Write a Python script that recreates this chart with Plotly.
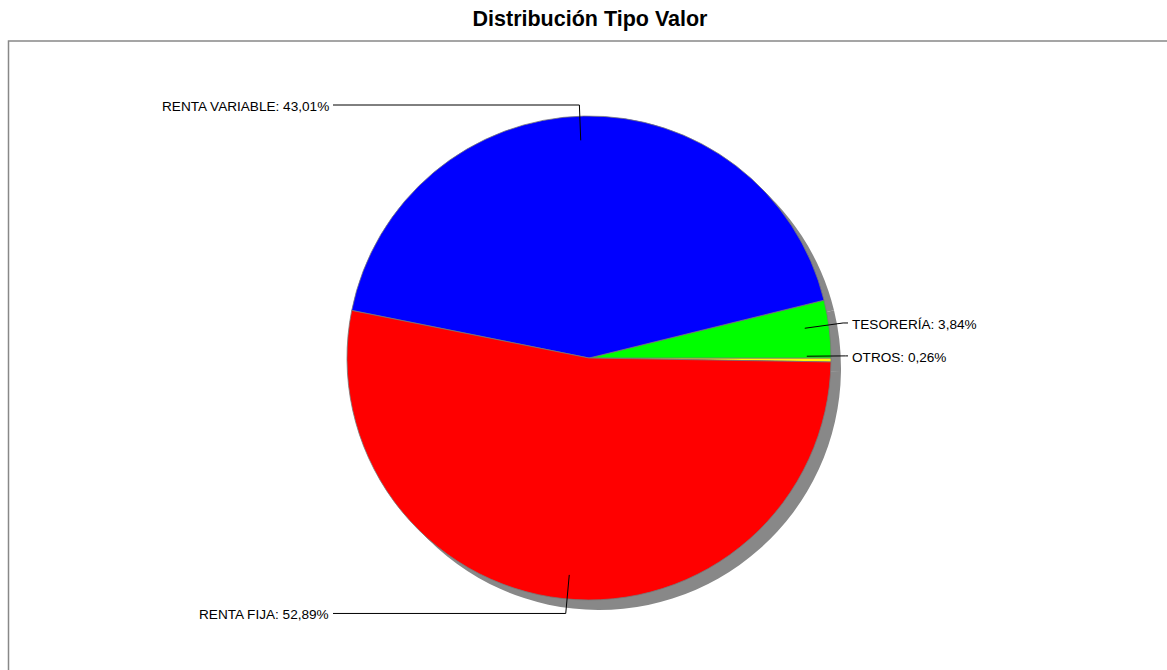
import math
import plotly.graph_objects as go

# ---- data ----
labels = ["OTROS", "TESORERÍA", "RENTA VARIABLE", "RENTA FIJA"]
values = [0.26, 3.84, 43.01, 52.89]
colors = ["#FFFF00", "#00FF00", "#0000FF", "#FF0000"]
label_side = ["right", "right", "left", "left"]
title_text = "Distribución Tipo Valor"

# ---- layout geometry (pixels) ----
W, H = 1167, 670
CX, CY, R = 589, 358, 242
SHADOW = 10
LEFT_X, RIGHT_X = 333, 848


def px_x(x):
    return x / W


def px_y(y):
    return 1 - y / H


def dom(cx, cy, r):
    return dict(x=[px_x(cx - r), px_x(cx + r)], y=[px_y(cy + r), px_y(cy - r)])


fig = go.Figure()

# shadow pie
fig.add_trace(go.Pie(
    labels=labels, values=values, sort=False, direction="counterclockwise",
    rotation=90, marker=dict(colors=["#888888"] * len(values), line=dict(width=0)),
    textinfo="none", hoverinfo="skip", showlegend=False,
    domain=dom(CX + SHADOW, CY + SHADOW, R),
))

# main pie
fig.add_trace(go.Pie(
    labels=labels, values=values, sort=False, direction="counterclockwise",
    rotation=90, marker=dict(colors=colors, line=dict(color="#777777", width=0.8)),
    textinfo="none", hoverinfo="label+percent", showlegend=False,
    domain=dom(CX, CY, R),
))

# leader lines and labels computed from slice mid-angles
total = sum(values)
cum = 0.0
shapes = []
annotations = []
for lab, v, side in zip(labels, values, label_side):
    mid = (cum + v / 2) / total * 2 * math.pi  # counterclockwise from 3 o'clock
    cum += v
    ca, sa = math.cos(mid), math.sin(mid)
    x0, y0 = CX + 0.9 * R * ca, CY - 0.9 * R * sa
    re = 1.06 * R if abs(sa) < 0.9 else (253 / abs(sa) if sa > 0 else 1.06 * R)
    x1, y1 = CX + re * ca, CY - re * sa
    x2 = LEFT_X if side == "left" else RIGHT_X
    pts = [(x0, y0), (x1, y1), (x2, y1)]
    path = "M " + " L ".join(f"{px_x(a)},{px_y(b)}" for a, b in pts)
    shapes.append(dict(type="path", path=path, xref="paper", yref="paper",
                       line=dict(color="black", width=1)))
    pct = f"{v:.2f}".replace(".", ",")
    annotations.append(dict(
        text=f"{lab}: {pct}%", xref="paper", yref="paper",
        x=px_x(x2 - 2 if side == "left" else x2 + 2), y=px_y(y1 + 1.5),
        xanchor="right" if side == "left" else "left", yanchor="middle",
        showarrow=False, font=dict(family="Liberation Sans, Arial", size=13.6, color="black"),
    ))

# frame
shapes.append(dict(type="rect", xref="paper", yref="paper",
                   x0=px_x(8.5), x1=1.02, y0=-0.02, y1=px_y(41),
                   line=dict(color="#888888", width=1.5), layer="below"))

fig.update_layout(
    width=W, height=H, autosize=False,
    margin=dict(l=0, r=0, t=0, b=0),
    paper_bgcolor="white", plot_bgcolor="white",
    title=dict(text=f"<b>{title_text}</b>", x=px_x(590), xanchor="center",
               y=px_y(18), yanchor="middle", yref="container",
               font=dict(family="Liberation Sans, Arial", size=21.5, color="black")),
    shapes=shapes, annotations=annotations, showlegend=False,
)

fig.write_html("out.html")
